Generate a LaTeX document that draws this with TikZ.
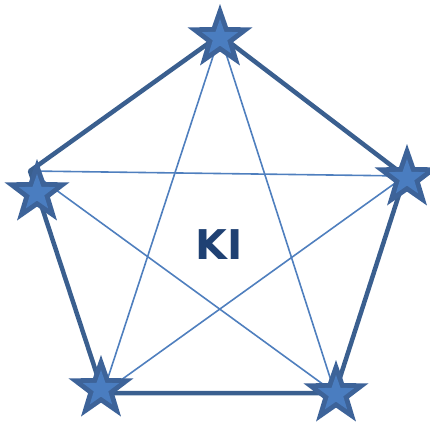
\documentclass[tikz,border=0pt]{standalone}
\usepackage{fontspec}
\newfontfamily\kifont{DejaVu Sans}
\usetikzlibrary{shapes.geometric}
\definecolor{edgeblue}{HTML}{3A5F8F}
\definecolor{chordblue}{HTML}{4F7FBE}
\definecolor{starout}{HTML}{3D6399}
\definecolor{starin}{HTML}{4A7DC0}
\definecolor{textblue}{HTML}{1F4173}

\tikzset{
  edge/.style={draw=edgeblue, line width=4.5pt},
  chord/.style={draw=chordblue, line width=1.6pt},
  bigstar/.style={star, star points=5, star point ratio=2.5, fill=starout, inner sep=0pt, minimum size=68pt},
  smallstar/.style={star, star points=5, star point ratio=2.5, fill=starin, inner sep=0pt, minimum size=38pt}
}

\begin{document}
\begin{tikzpicture}[x=1pt, y=-1pt]
  \useasboundingbox (0,0) rectangle (430,423);

  % pentagon corners
  \coordinate (top) at (220,35);
  \coordinate (right) at (405,176);
  \coordinate (botr) at (335,393);
  \coordinate (botl) at (103,393);
  \coordinate (left) at (30,171);

  % inner star lines
  \draw[chord] (top) -- (botl);
  \draw[chord] (top) -- (botr);
  \draw[chord] (left) -- (right);
  \draw[chord] (left) -- (botr);
  \draw[chord] (right) -- (botl);

  % outline
  \draw[edge, line join=round] (top) -- (right) -- (botr) -- (botl) -- (left) -- cycle;

  % stars on the corners
  \foreach \name/\pos in {stop/{(220,38)}, sright/{(407,178)}, sbotr/{(336,394)}, sbotl/{(101,389)}, sleft/{(37,193)}} {
    \node[bigstar] (\name) at \pos {};
    \node[smallstar] at (\name) {};
  }

  \node[font=\kifont\bfseries\fontsize{41}{44}\selectfont, text=textblue] (ki) at (219,245) {KI};
\end{tikzpicture}
\end{document}
